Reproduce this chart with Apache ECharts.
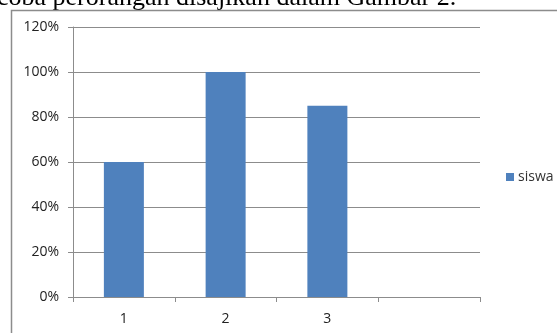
<!DOCTYPE html>
<html>
<head>
<meta charset="utf-8">
<script src="https://cdn.jsdelivr.net/npm/echarts@6/dist/echarts.min.js"></script>
<style>
  html, body { margin: 0; padding: 0; background: #fff; }
  #chart { width: 557px; height: 333px; }
</style>
</head>
<body>
<div id="chart"></div>
<script>
const categories = ['1', '2', '3', ''];
const siswa = [0.60, 1.00, 0.85, null];
const seriesName = 'siswa';
const caption = 'coba perorangan disajikan dalam Gambar 2.';

const chart = echarts.init(document.getElementById('chart'));

chart.setOption({
  animation: false,
  textStyle: { fontFamily: 'Open Sans' },
  graphic: [
    {
      type: 'text', left: -3, top: -15, silent: true,
      style: { text: caption, font: '26px "Liberation Serif"', fill: '#000' }
    },
    {
      type: 'rect', silent: true,
      shape: { x: 11.5, y: 10.5, width: 600, height: 400 },
      style: { fill: 'none', stroke: '#8c8c8c', lineWidth: 1.5 }
    }
  ],
  grid: { left: 73, right: 77, top: 27, bottom: 36 },
  legend: {
    data: [seriesName],
    orient: 'vertical', left: 501, top: 165,
    icon: 'rect', itemWidth: 8, itemHeight: 8, itemGap: 4,
    textStyle: { fontSize: 14, color: '#333', padding: [0, 0, 0, -1] }
  },
  xAxis: {
    type: 'category', data: categories,
    axisLine: { lineStyle: { color: '#8c8c8c' } },
    axisTick: { show: true, length: 5, lineStyle: { color: '#8c8c8c' } },
    axisLabel: { fontSize: 14, color: '#222', margin: 15 },
    splitLine: { show: false }
  },
  yAxis: {
    type: 'value', min: 0, max: 1.2, interval: 0.2,
    axisLine: { show: true, lineStyle: { color: '#8c8c8c' } },
    axisTick: { show: true, length: 5, lineStyle: { color: '#8c8c8c' } },
    axisLabel: {
      fontSize: 14, color: '#222', margin: 14,
      formatter: v => Math.round(v * 100) + '%'
    },
    splitLine: { lineStyle: { color: '#8c8c8c' } }
  },
  series: [{
    name: seriesName, type: 'bar', data: siswa,
    barWidth: 40,
    itemStyle: { color: '#4f81bd' }
  }]
});
</script>
</body>
</html>
